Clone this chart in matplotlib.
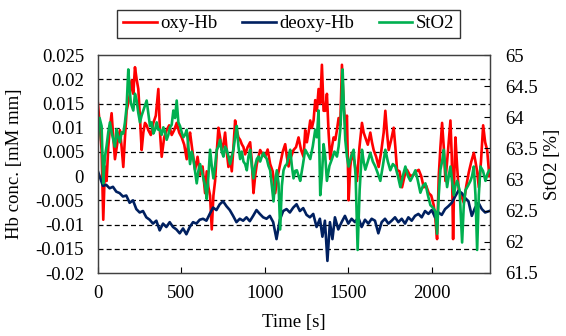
import matplotlib
matplotlib.use("Agg")
import matplotlib.pyplot as plt
from matplotlib.lines import Line2D

plt.rcParams["font.family"] = ["Liberation Serif", "DejaVu Serif"]

# =========================
# Data
# =========================
oxy_t = [0, 10, 22, 32, 42, 52, 62, 72, 82, 92, 102, 117, 132, 142, 152, 162, 172, 187, 202, 212,
         222, 232, 242, 252, 262, 272, 282, 292, 302, 317, 332, 347, 362, 372, 382, 397, 412, 427, 442, 457,
         472, 487, 502, 517, 532, 542, 552, 567, 582, 597, 612, 627, 642, 652, 662, 672, 682, 692, 702, 712,
         722, 732, 742, 752, 762, 772, 782, 792, 802, 812, 822, 832, 842, 852, 862, 872, 882, 897, 912, 922,
         932, 942, 952, 962, 972, 987, 1002, 1017, 1032, 1047, 1062, 1077, 1092, 1107, 1122, 1132, 1142, 1157, 1172, 1187,
         1202, 1217, 1232, 1242, 1252, 1262, 1272, 1282, 1292, 1302, 1312, 1322, 1332, 1342, 1352, 1362, 1372, 1382, 1392, 1402,
         1412, 1422, 1432, 1442, 1452, 1462, 1472, 1482, 1492, 1502, 1512, 1522, 1537, 1552, 1567, 1582, 1592, 1602, 1617, 1632,
         1642, 1652, 1667, 1682, 1697, 1712, 1722, 1732, 1742, 1757, 1772, 1782, 1792, 1807, 1822, 1837, 1852, 1872, 1892, 1907,
         1922, 1937, 1952, 1967, 1982, 1997, 2012, 2022, 2032, 2042, 2052, 2062, 2072, 2082, 2097, 2112, 2120, 2128, 2135, 2142,
         2152, 2162, 2177, 2192, 2207, 2222, 2237, 2252, 2262, 2272, 2282, 2295, 2308, 2320, 2332, 2345]
oxy_hb = [0.015, 0.011, 0.0054, -0.009, 0.002, -0.001, 0.006, 0.01, 0.013, 0.008, 0.0035, 0.007, 0.0095, 0.006, 0.0019, 0.008, 0.0135, 0.016, 0.0198, 0.017,
          0.0225, 0.02, 0.018, 0.012, 0.0054, 0.009, 0.011, 0.0105, 0.0095, 0.0085, 0.011, 0.0125, 0.018, 0.009, 0.004, 0.008, 0.0095, 0.0105, 0.0085, 0.0095,
          0.011, 0.009, 0.008, 0.0065, 0.0035, 0.0075, 0.009, 0.005, 0.0013, 0.004, 0.0003, 0.002, -0.0035, 0.001, -0.0023, -0.004, -0.011, -0.004, -0.001, 0.005,
          0.010, 0.008, 0.0054, 0.0065, 0.009, 0.005, 0.0019, 0.004, 0.001, 0.006, 0.0115, 0.0095, 0.008, 0.0075, 0.0066, 0.006, 0.0045, 0.006, 0.007, 0.003,
          -0.0035, 0.0, 0.0025, 0.004, 0.0054, 0.0045, 0.004, 0.0055, 0.0025, 0.001, -0.0035, 0.0, 0.0025, 0.005, 0.0066, 0.004, 0.002, 0.004, 0.0054, 0.006,
          0.008, 0.0054, 0.004, 0.0095, 0.007, 0.009, 0.0115, 0.01, 0.0115, 0.0157, 0.0135, 0.018, 0.015, 0.023, 0.0135, 0.0135, 0.017, 0.009, 0.0035, 0.006,
          0.008, 0.0075, 0.0095, 0.012, 0.0105, 0.023, 0.015, 0.0105, 0.0125, -0.005, 0.002, 0.0048, 0.003, -0.001, 0.006, 0.011, 0.009, 0.008, 0.0065, 0.009,
          0.007, 0.0054, 0.004, 0.0019, 0.005, 0.009, 0.0135, 0.009, 0.0054, 0.0075, 0.010, 0.006, 0.0013, 0.001, -0.0023, 0.0, 0.0013, 0.0, 0.0003, 0.001,
          0.0013, 0.0, -0.0023, -0.002, -0.0035, -0.004, -0.006, -0.009, -0.013, 0.0, 0.006, 0.011, 0.006, -0.001, 0.005, 0.0115, 0.004, -0.013, 0.0, 0.008,
          0.002, -0.003, -0.004, -0.0055, -0.002, 0.0008, 0.003, 0.0048, 0.003, 0.001, -0.0023, 0.003, 0.0105, 0.007, 0.0054, 0.0]

deoxy_t = [0, 15, 30, 50, 70, 90, 110, 130, 150, 170, 190, 210, 230, 250, 270, 290, 310, 330, 350, 370,
           390, 410, 430, 450, 470, 490, 510, 530, 550, 570, 590, 610, 630, 650, 670, 690, 710, 730, 750, 770,
           790, 810, 830, 850, 870, 890, 910, 930, 950, 970, 990, 1010, 1030, 1050, 1070, 1090, 1110, 1130, 1150, 1170,
           1190, 1210, 1230, 1250, 1270, 1290, 1310, 1330, 1345, 1360, 1375, 1390, 1405, 1420, 1440, 1460, 1480, 1500, 1520, 1540,
           1560, 1580, 1600, 1620, 1640, 1660, 1680, 1700, 1720, 1740, 1760, 1780, 1800, 1820, 1840, 1860, 1880, 1900, 1920, 1940,
           1960, 1980, 2000, 2020, 2040, 2060, 2080, 2100, 2120, 2140, 2160, 2180, 2200, 2220, 2240, 2260, 2280, 2300, 2320, 2345]
deoxy_hb = [0.001, -0.0005, -0.002, -0.0018, -0.0025, -0.0022, -0.0032, -0.0035, -0.0042, -0.004, -0.0055, -0.005, -0.0068, -0.0075, -0.0072, -0.0085, -0.009, -0.0098, -0.0092, -0.0112,
            -0.0098, -0.0105, -0.0095, -0.0105, -0.011, -0.0118, -0.0108, -0.012, -0.0105, -0.0095, -0.0098, -0.009, -0.0088, -0.0092, -0.0078, -0.0065, -0.007, -0.0058, -0.0052, -0.0062,
            -0.007, -0.0082, -0.0095, -0.0088, -0.0092, -0.0085, -0.0093, -0.0082, -0.007, -0.0078, -0.0085, -0.0088, -0.0082, -0.0095, -0.013, -0.009, -0.0072, -0.0068, -0.0075, -0.0065,
            -0.0058, -0.0072, -0.0066, -0.008, -0.0085, -0.0078, -0.0105, -0.0088, -0.0125, -0.0092, -0.0175, -0.0095, -0.013, -0.0085, -0.011, -0.0095, -0.0082, -0.0098, -0.0088, -0.0095,
            -0.0085, -0.0105, -0.009, -0.0098, -0.0088, -0.0092, -0.0118, -0.0095, -0.0088, -0.0098, -0.0092, -0.0085, -0.0095, -0.0088, -0.0098, -0.0085, -0.0092, -0.0082, -0.0078, -0.0085,
            -0.0072, -0.0078, -0.007, -0.0085, -0.0075, -0.008, -0.0068, -0.0062, -0.0055, -0.0042, -0.003, -0.0035, -0.0045, -0.0052, -0.0082, -0.0065, -0.0055, -0.0068, -0.0075, -0.0072]

sto2_t = [0, 10, 22, 32, 42, 52, 62, 72, 82, 92, 102, 112, 122, 132, 142, 152, 162, 172, 182, 190,
          197, 212, 222, 232, 242, 252, 262, 272, 282, 292, 302, 312, 322, 332, 342, 352, 362, 372, 382, 392,
          402, 412, 422, 432, 442, 452, 462, 472, 482, 492, 502, 512, 522, 532, 542, 552, 562, 572, 582, 592,
          602, 612, 622, 632, 642, 652, 662, 672, 682, 692, 702, 712, 722, 732, 742, 752, 762, 772, 782, 792,
          802, 812, 822, 832, 842, 852, 862, 872, 882, 892, 902, 912, 922, 932, 942, 952, 962, 972, 982, 992,
          1002, 1012, 1022, 1032, 1042, 1052, 1062, 1072, 1082, 1092, 1102, 1112, 1122, 1132, 1142, 1152, 1162, 1172, 1182, 1192,
          1202, 1212, 1227, 1242, 1257, 1272, 1287, 1302, 1312, 1322, 1332, 1342, 1352, 1362, 1372, 1387, 1402, 1417, 1432, 1442,
          1452, 1460, 1466, 1474, 1482, 1492, 1502, 1517, 1532, 1544, 1556, 1568, 1582, 1592, 1602, 1617, 1632, 1647, 1662, 1677,
          1692, 1707, 1722, 1737, 1752, 1767, 1782, 1797, 1812, 1827, 1842, 1857, 1872, 1887, 1902, 1917, 1932, 1947, 1962, 1977,
          1992, 2007, 2022, 2032, 2042, 2052, 2062, 2072, 2082, 2092, 2102, 2112, 2122, 2132, 2142, 2152, 2167, 2182, 2192, 2202,
          2217, 2232, 2242, 2252, 2262, 2272, 2282, 2292, 2307, 2322, 2335, 2345]
sto2 = [63.64, 63.99, 63.86, 62.94, 63.37, 63.54, 63.76, 63.92, 63.76, 63.64, 63.53, 63.81, 63.68, 63.60, 63.76, 63.74, 63.92, 64.17, 64.77, 64.46,
        64.23, 64.11, 64.38, 64.27, 64.07, 63.92, 64.03, 64.11, 64.19, 64.27, 64.07, 63.86, 63.92, 63.74, 63.80, 63.92, 63.80, 63.80, 63.72, 63.84,
        63.76, 63.64, 63.72, 63.84, 63.88, 64.11, 63.99, 64.27, 63.92, 63.86, 63.76, 63.68, 63.72, 63.80, 63.53, 63.25, 63.45, 63.33, 63.14, 62.94,
        63.14, 63.25, 63.14, 63.02, 62.90, 62.69, 63.06, 63.48, 63.22, 63.02, 63.22, 63.48, 63.53, 63.64, 63.45, 63.37, 63.53, 63.48, 63.37, 63.25,
        63.37, 63.48, 63.68, 63.86, 63.53, 63.33, 63.45, 63.29, 63.25, 63.15, 63.37, 63.48, 63.22, 63.02, 63.22, 63.33, 63.37, 63.29, 63.37, 63.43,
        63.37, 63.33, 63.22, 63.15, 62.90, 62.65, 62.98, 63.15, 62.94, 62.20, 62.90, 63.15, 63.22, 63.25, 63.37, 63.48, 63.22, 63.02, 63.14, 63.15,
        63.06, 62.98, 63.22, 63.48, 63.41, 63.33, 63.53, 63.80, 63.68, 64.11, 62.75, 63.06, 63.57, 63.37, 62.98, 63.22, 63.33, 63.45, 63.37, 63.53,
        63.80, 64.23, 64.77, 64.15, 63.64, 63.37, 63.21, 63.37, 63.48, 63.06, 61.87, 62.83, 63.48, 63.29, 63.16, 63.29, 63.43, 63.29, 63.21, 63.10,
        62.98, 63.22, 63.48, 63.29, 63.15, 63.25, 63.21, 63.06, 62.88, 63.06, 63.21, 63.06, 62.98, 63.06, 63.15, 62.98, 62.79, 62.90, 62.94, 62.75,
        62.59, 62.55, 62.49, 62.13, 62.75, 63.16, 63.29, 63.48, 63.14, 62.88, 63.06, 63.21, 62.98, 62.75, 62.90, 62.98, 62.83, 61.99, 62.59, 62.83,
        62.90, 62.98, 63.06, 63.21, 62.75, 61.87, 62.75, 63.21, 63.14, 62.98, 63.10, 63.15]

left_ticks = [-0.02, -0.015, -0.01, -0.005, 0, 0.005, 0.01, 0.015, 0.02, 0.025]
left_labels = ["-0.02", "-0.015", "-0.01", "-0.005", "0", "0.005", "0.01", "0.015", "0.02", "0.025"]
right_ticks = [61.5, 62, 62.5, 63, 63.5, 64, 64.5, 65]
right_labels = ["61.5", "62", "62.5", "63", "63.5", "64", "64.5", "65"]
time_ticks = [0, 500, 1000, 1500, 2000]

RED = "#FF0000"
NAVY = "#002060"
GREEN = "#00B050"
FS = 13.5

fig = plt.figure(figsize=(5.66, 3.36), dpi=100)
ax = fig.add_axes([0.173, 0.1875, 0.693, 0.6485])
ax2 = ax.twinx()

ax.plot(oxy_t, oxy_hb, color=RED, lw=1.9)
ax.plot(deoxy_t, deoxy_hb, color=NAVY, lw=1.9)
ax2.plot(sto2_t, sto2, color=GREEN, lw=1.9)

ax.set_xlim(0, 2350)
ax.set_ylim(-0.02, 0.025)
ax2.set_ylim(61.5, 65)

ax.set_xticks(time_ticks)
ax.set_xticklabels([str(v) for v in time_ticks], fontsize=FS)
ax.set_yticks(left_ticks)
ax.set_yticklabels(left_labels, fontsize=FS)
ax2.set_yticks(right_ticks)
ax2.set_yticklabels(right_labels, fontsize=FS)

ax.tick_params(axis="x", direction="in", length=4, width=0.8, colors="black", pad=9)
ax.tick_params(axis="y", length=0, pad=10)
ax2.tick_params(axis="y", direction="in", length=4, width=0.8, pad=11)

# dashed grid lines at the inner left ticks
for v in left_ticks[1:-1]:
    ax.axhline(v, color="black", lw=0.9, ls=(0, (4, 2.5)), zorder=0)

for sp in list(ax.spines.values()) + list(ax2.spines.values()):
    sp.set_color("#404040")
    sp.set_linewidth(0.9)

ax.set_xlabel("Time [s]", fontsize=FS, labelpad=8)
ax.set_ylabel("Hb conc. [mM mm]", fontsize=FS, labelpad=9)
ax2.set_ylabel("StO2 [%]", fontsize=FS, labelpad=4)

handles = [Line2D([], [], color=RED, lw=1.9),
           Line2D([], [], color=NAVY, lw=1.9),
           Line2D([], [], color=GREEN, lw=1.9)]
leg = fig.legend(handles, ["oxy-Hb", "deoxy-Hb", "StO2"], loc="center",
                 bbox_to_anchor=(0.51, 0.929), ncol=3, fontsize=FS, frameon=True,
                 fancybox=False, edgecolor="black", handlelength=1.8, handletextpad=0.2,
                 columnspacing=1.3, borderpad=0.3)
leg.get_frame().set_linewidth(1.0)

fig.savefig("out.png", dpi=100)
